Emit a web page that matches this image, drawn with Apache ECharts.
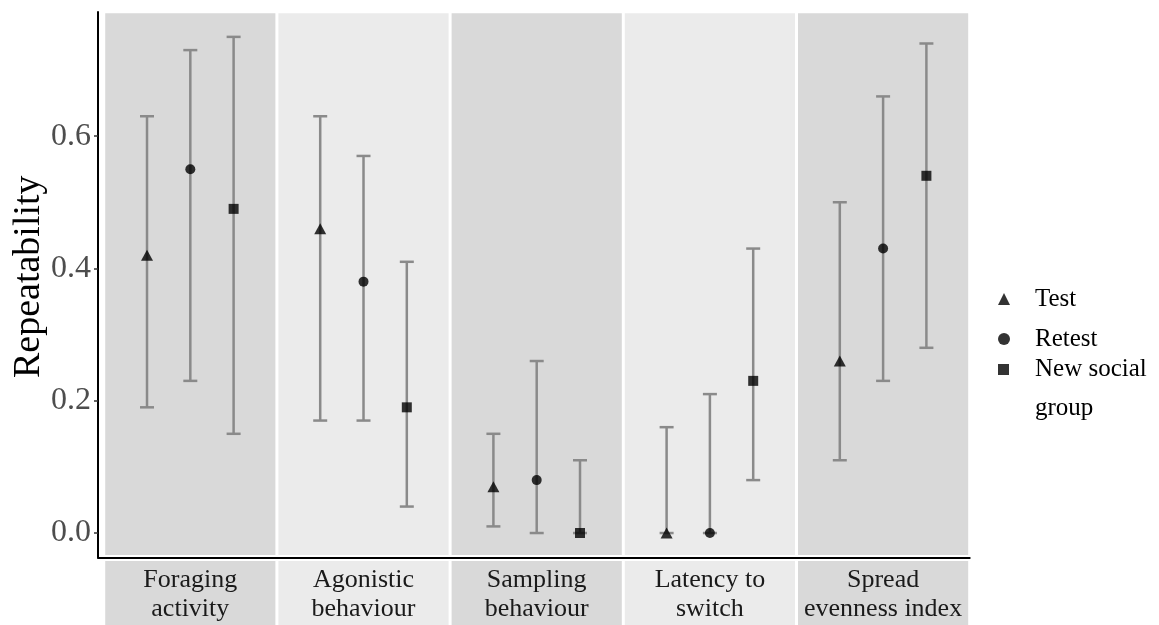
<!DOCTYPE html>
<html>
<head>
<meta charset="utf-8">
<script src="https://cdn.jsdelivr.net/npm/echarts@6/dist/echarts.min.js"></script>
<style>
  html, body { margin: 0; padding: 0; background: #ffffff; }
  #chart { width: 1159px; height: 625px; }
</style>
</head>
<body>
<div id="chart"></div>
<script>
// Behaviours shown as facets, in order
const categories = ['Foraging\nactivity', 'Agonistic\nbehaviour', 'Sampling\nbehaviour', 'Latency to\nswitch', 'Spread\nevenness index'];
const groups = ['Test', 'Retest', 'New social group'];

// Repeatability estimates with lower / upper interval bounds
const testEst   = [0.42, 0.46, 0.07, 0.00, 0.26];
const testLow   = [0.19, 0.17, 0.01, 0.00, 0.11];
const testHigh  = [0.63, 0.63, 0.15, 0.16, 0.50];

const retestEst  = [0.55, 0.38, 0.08, 0.00, 0.43];
const retestLow  = [0.23, 0.17, 0.00, 0.00, 0.23];
const retestHigh = [0.73, 0.57, 0.26, 0.21, 0.66];

const newEst  = [0.49, 0.19, 0.00, 0.23, 0.54];
const newLow  = [0.15, 0.04, 0.00, 0.08, 0.28];
const newHigh = [0.75, 0.41, 0.11, 0.43, 0.74];

const yTicks = [0.0, 0.2, 0.4, 0.6];

// ---- layout / style constants ----
const FONT = "'Liberation Serif', 'Times New Roman', serif";
const X_MIN = -0.033, X_MAX = 5;
const Y_MIN = -0.037, Y_MAX = 0.7876;
const PANEL_TOP = 0.7856, PANEL_BOTTOM = -0.0333;
const PANEL_GAP = 0.0087;
const PANEL_FILL = ['#d9d9d9', '#ebebeb'];
const DODGE = [-0.25, 0, 0.25];
const SYMBOLS = ['triangle', 'circle', 'rect'];
const SYMBOL_SIZES = [[12, 11], 10, 10];
const BAR_COLOR = '#8a8a8a';

const estimates = [testEst, retestEst, newEst];
const lows = [testLow, retestLow, newLow];
const highs = [testHigh, retestHigh, newHigh];

const chart = echarts.init(document.getElementById('chart'), null, { renderer: 'canvas' });

// panel backgrounds in the plotting area
const panelSeries = {
  type: 'custom',
  xAxisIndex: 0, yAxisIndex: 0,
  silent: true,
  z: 1,
  data: categories.map((c, i) => [i]),
  renderItem(params, api) {
    const i = api.value(0);
    const p1 = api.coord([i + PANEL_GAP, PANEL_TOP]);
    const p2 = api.coord([i + 1 - PANEL_GAP, PANEL_BOTTOM]);
    return {
      type: 'rect',
      shape: { x: p1[0], y: p1[1], width: p2[0] - p1[0], height: p2[1] - p1[1] },
      style: { fill: PANEL_FILL[i % 2] }
    };
  }
};

// facet strips with labels under the x axis
const stripSeries = {
  type: 'custom',
  xAxisIndex: 1, yAxisIndex: 1,
  silent: true,
  z: 1,
  data: categories.map((c, i) => [i]),
  renderItem(params, api) {
    const i = api.value(0);
    const p1 = api.coord([i + PANEL_GAP, 1]);
    const p2 = api.coord([i + 1 - PANEL_GAP, 0]);
    const mid = api.coord([i + 0.5, 0.47]);
    return {
      type: 'group',
      children: [
        {
          type: 'rect',
          shape: { x: p1[0], y: p1[1], width: p2[0] - p1[0], height: p2[1] - p1[1] },
          style: { fill: PANEL_FILL[i % 2] }
        },
        {
          type: 'text',
          style: {
            x: mid[0], y: mid[1],
            text: categories[i],
            align: 'center', verticalAlign: 'middle',
            font: '26px ' + FONT,
            lineHeight: 29,
            fill: '#1a1a1a'
          }
        }
      ]
    };
  }
};

// interval bars with caps
function errorBarSeries(k) {
  return {
    type: 'custom',
    name: groups[k] + ' interval',
    xAxisIndex: 0, yAxisIndex: 0,
    silent: true,
    z: 3,
    encode: { x: 0, y: [1, 2] },
    data: categories.map((c, i) => [i + 0.5 + DODGE[k], lows[k][i], highs[k][i]]),
    renderItem(params, api) {
      const x = api.value(0);
      const top = api.coord([x, api.value(2)]);
      const bot = api.coord([x, api.value(1)]);
      const cap = 7;
      const style = { stroke: BAR_COLOR, lineWidth: 2.5, fill: null };
      return {
        type: 'group',
        children: [
          { type: 'line', shape: { x1: top[0], y1: top[1], x2: bot[0], y2: bot[1] }, style },
          { type: 'line', shape: { x1: top[0] - cap, y1: top[1], x2: top[0] + cap, y2: top[1] }, style },
          { type: 'line', shape: { x1: bot[0] - cap, y1: bot[1], x2: bot[0] + cap, y2: bot[1] }, style }
        ]
      };
    }
  };
}

// point estimates
function pointSeries(k) {
  return {
    type: 'scatter',
    name: groups[k],
    xAxisIndex: 0, yAxisIndex: 0,
    z: 5,
    symbol: SYMBOLS[k],
    symbolSize: SYMBOL_SIZES[k],
    itemStyle: { color: '#000000' },
    data: categories.map((c, i) => [i + 0.5 + DODGE[k], estimates[k][i]])
  };
}

const legendText = {
  fontFamily: FONT, fontSize: 25, color: '#000000', lineHeight: 38
};

const option = {
  animation: false,
  backgroundColor: '#ffffff',
  grid: [
    { left: 98, right: 189.3, top: 12, bottom: 67.5, containLabel: false, outerBoundsMode: 'none' },
    { left: 98, right: 189.3, top: 561, bottom: 0, containLabel: false, outerBoundsMode: 'none' }
  ],
  xAxis: [
    {
      type: 'value', gridIndex: 0, min: X_MIN, max: X_MAX,
      axisLine: { show: true, onZero: false, lineStyle: { color: '#000000', width: 2 } },
      axisTick: { show: false },
      axisLabel: { show: false },
      splitLine: { show: false }
    },
    { type: 'value', gridIndex: 1, min: X_MIN, max: X_MAX, show: false }
  ],
  yAxis: [
    {
      type: 'value', gridIndex: 0, min: Y_MIN, max: Y_MAX,
      name: 'Repeatability',
      nameLocation: 'middle',
      nameGap: 50,
      nameMoveOverlap: false,
      nameRotate: 90,
      nameTextStyle: { fontFamily: FONT, fontSize: 38, color: '#000000', padding: [0, 0, 0, 16] },
      axisLine: { show: true, onZero: false, lineStyle: { color: '#000000', width: 2 } },
      axisTick: { show: true, customValues: yTicks, length: 4, lineStyle: { color: '#333333', width: 1.5 } },
      axisLabel: {
        customValues: yTicks,
        formatter: v => Number(v).toFixed(1),
        fontFamily: FONT, fontSize: 32, color: '#4d4d4d', margin: 7
      },
      splitLine: { show: false }
    },
    { type: 'value', gridIndex: 1, min: 0, max: 1, show: false }
  ],
  legend: [
    {
      orient: 'vertical',
      left: 998, top: 280,
      padding: 0,
      itemWidth: 12, itemHeight: 12, itemGap: 2,
      selectedMode: false,
      textStyle: Object.assign({}, legendText, { padding: [0, 0, 0, 20] }),
      data: [
        { name: groups[0], icon: 'triangle', itemStyle: { color: '#000000' } },
        { name: groups[1], icon: 'circle', itemStyle: { color: '#000000' } }
      ]
    },
    {
      orient: 'vertical',
      left: 998, top: 311,
      padding: 0,
      itemWidth: 11, itemHeight: 11,
      selectedMode: false,
      // leading blank line keeps the key level with the first line of the label
      formatter: () => '{e| }\n{t|New social}\n{t|group}',
      textStyle: Object.assign({}, legendText, {
        padding: [0, 0, 0, 21],
        rich: {
          e: { fontFamily: FONT, fontSize: 25, lineHeight: 39 },
          t: { fontFamily: FONT, fontSize: 25, lineHeight: 39, color: '#000000' }
        }
      }),
      data: [
        { name: groups[2], icon: 'rect', itemStyle: { color: '#000000' } }
      ]
    }
  ],
  series: [
    panelSeries,
    stripSeries,
    errorBarSeries(0), errorBarSeries(1), errorBarSeries(2),
    pointSeries(0), pointSeries(1), pointSeries(2)
  ]
};

chart.setOption(option);
</script>
</body>
</html>
